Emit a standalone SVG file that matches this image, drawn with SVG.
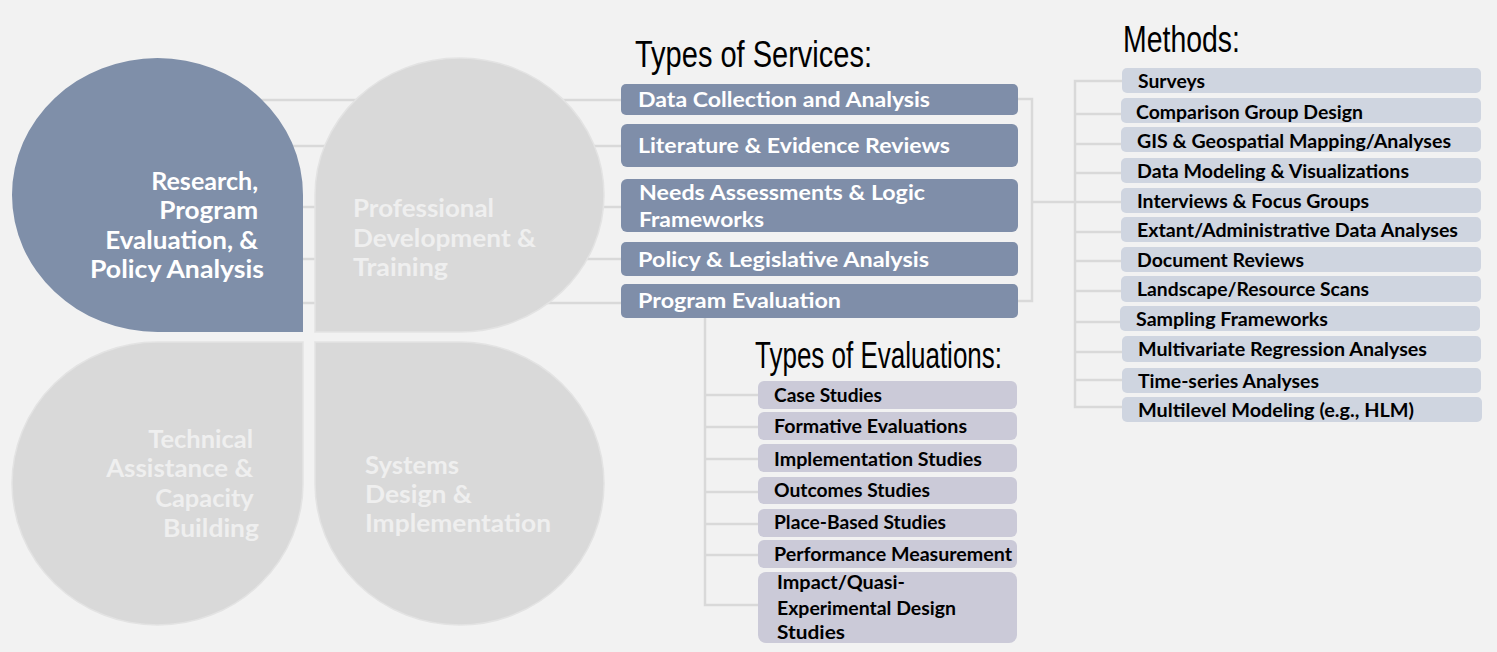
<svg xmlns="http://www.w3.org/2000/svg" width="1497" height="652" viewBox="0 0 1497 652">
<style>
.bg{fill:#f2f2f2}
.ln{stroke:#d9d9d9;stroke-width:2.5;fill:none}
.pb{fill:#7f8fa9}
.pg{fill:#d9d9d9;stroke:#e3e3e3;stroke-width:1.5}
.pt{font-family:Lato,"Open Sans",sans-serif;font-weight:700;font-size:24px}
.ptw{fill:#ffffff}
.ptg{fill:#efefef}
.ttl{font-family:"Liberation Sans",Arial,sans-serif;font-size:37px;fill:#000}
.sv{fill:#7f8ea9}
.svt{font-family:Lato,"Open Sans",sans-serif;font-weight:700;font-size:21px;fill:#fff}
.mb{fill:#cfd5e0}
.eb{fill:#cbcad8}
.bt{font-family:Lato,"Open Sans",sans-serif;font-weight:700;font-size:18px;fill:#000}
</style>
<rect class="bg" x="0" y="0" width="1497" height="652"/>

<g id="connectors">
  <path class="ln" d="M160,100 H621 M160,146 H621 M160,207 H621 M160,259 H621 M160,303 H621"/>
  <path class="ln" d="M1018,99 H1032 V301 H1018 M1032,202 H1075"/>
  <path class="ln" d="M1122,81 H1075 V407 H1122 M1075,114 H1122 M1075,144 H1122 M1075,173 H1122 M1075,202 H1122 M1075,232 H1122 M1075,261 H1122 M1075,291 H1122 M1075,322 H1122 M1075,352 H1122 M1075,380 H1122"/>
  <path class="ln" d="M705,318 V605 H758 M705,395 H758 M705,427 H758 M705,459 H758 M705,492 H758 M705,524 H758 M705,555 H758"/>
</g>

<g id="petal-research">
  <path class="pb" d="M303,332 H157.5 A145.5,137 0 0 1 12,195 A145.5,137 0 0 1 157.5,58 A145.5,137 0 0 1 303,195 Z"/>
  <text class="pt ptw" text-anchor="end">
    <tspan x="264" y="190" textLength="107" lengthAdjust="spacingAndGlyphs">Research,</tspan>
    <tspan x="264" y="219" textLength="99" lengthAdjust="spacingAndGlyphs">Program</tspan>
    <tspan x="264" y="249" textLength="153" lengthAdjust="spacingAndGlyphs">Evaluation, &amp;</tspan>
    <tspan x="264" y="278" textLength="174" lengthAdjust="spacingAndGlyphs">Policy Analysis</tspan>
  </text>
</g>
<g id="petal-professional">
  <path class="pg" d="M315,332 V195 A144.5,137 0 0 1 459.5,58 A144.5,137 0 0 1 604,195 A144.5,137 0 0 1 459.5,332 Z"/>
  <text class="pt ptg">
    <tspan x="353" y="217" textLength="141" lengthAdjust="spacingAndGlyphs">Professional</tspan>
    <tspan x="353" y="247" textLength="183" lengthAdjust="spacingAndGlyphs">Development &amp;</tspan>
    <tspan x="353" y="276" textLength="95" lengthAdjust="spacingAndGlyphs">Training</tspan>
  </text>
</g>
<g id="petal-technical">
  <path class="pg" d="M303,342 V483.5 A145.5,141.5 0 0 1 157.5,625 A145.5,141.5 0 0 1 12,483.5 A145.5,141.5 0 0 1 157.5,342 Z"/>
  <text class="pt ptg" text-anchor="end">
    <tspan x="259" y="448" textLength="105" lengthAdjust="spacingAndGlyphs">Technical</tspan>
    <tspan x="259" y="477" textLength="147" lengthAdjust="spacingAndGlyphs">Assistance &amp;</tspan>
    <tspan x="259" y="507" textLength="98" lengthAdjust="spacingAndGlyphs">Capacity</tspan>
    <tspan x="259" y="537" textLength="96" lengthAdjust="spacingAndGlyphs">Building</tspan>
  </text>
</g>
<g id="petal-systems">
  <path class="pg" d="M315,342 H459.5 A144.5,141.5 0 0 1 604,483.5 A144.5,141.5 0 0 1 459.5,625 A144.5,141.5 0 0 1 315,483.5 Z"/>
  <text class="pt ptg">
    <tspan x="365" y="474" textLength="94" lengthAdjust="spacingAndGlyphs">Systems</tspan>
    <tspan x="365" y="503" textLength="107" lengthAdjust="spacingAndGlyphs">Design &amp;</tspan>
    <tspan x="365" y="532" textLength="186" lengthAdjust="spacingAndGlyphs">Implementation</tspan>
  </text>
</g>

<g id="title-services"><text class="ttl" x="635" y="67" textLength="237" lengthAdjust="spacingAndGlyphs">Types of Services:</text></g>
<g id="title-methods"><text class="ttl" x="1123" y="52" textLength="117" lengthAdjust="spacingAndGlyphs">Methods:</text></g>
<g id="title-evaluations"><text class="ttl" x="755" y="368" textLength="247" lengthAdjust="spacingAndGlyphs">Types of Evaluations:</text></g>

<g id="svc-data"><rect class="sv" x="621" y="84" width="397" height="31" rx="5"/><text class="svt" x="638" y="107" textLength="292" lengthAdjust="spacingAndGlyphs">Data Collection and Analysis</text></g>
<g id="svc-literature"><rect class="sv" x="621" y="124" width="397" height="43" rx="6"/><text class="svt" x="638" y="153" textLength="312" lengthAdjust="spacingAndGlyphs">Literature &amp; Evidence Reviews</text></g>
<g id="svc-needs"><rect class="sv" x="621" y="179" width="397" height="53" rx="6"/><text class="svt"><tspan x="639" y="200" textLength="286" lengthAdjust="spacingAndGlyphs">Needs Assessments &amp; Logic</tspan><tspan x="639" y="227" textLength="125" lengthAdjust="spacingAndGlyphs">Frameworks</tspan></text></g>
<g id="svc-policy"><rect class="sv" x="621" y="242" width="397" height="34" rx="5"/><text class="svt" x="638" y="267" textLength="291" lengthAdjust="spacingAndGlyphs">Policy &amp; Legislative Analysis</text></g>
<g id="svc-program"><rect class="sv" x="621" y="284" width="397" height="34" rx="5"/><text class="svt" x="638" y="308" textLength="203" lengthAdjust="spacingAndGlyphs">Program Evaluation</text></g>

<g id="m-surveys"><rect class="mb" x="1122" y="68" width="359" height="25" rx="5"/><text class="bt" x="1138" y="88" textLength="67" lengthAdjust="spacingAndGlyphs">Surveys</text></g>
<g id="m-comparison"><rect class="mb" x="1121" y="98" width="360" height="25" rx="5"/><text class="bt" x="1136" y="119" textLength="227" lengthAdjust="spacingAndGlyphs">Comparison Group Design</text></g>
<g id="m-gis"><rect class="mb" x="1121" y="127" width="360" height="25" rx="5"/><text class="bt" x="1137" y="148" textLength="314" lengthAdjust="spacingAndGlyphs">GIS &amp; Geospatial Mapping/Analyses</text></g>
<g id="m-datamodel"><rect class="mb" x="1121" y="158" width="360" height="25" rx="5"/><text class="bt" x="1137" y="178" textLength="272" lengthAdjust="spacingAndGlyphs">Data Modeling &amp; Visualizations</text></g>
<g id="m-interviews"><rect class="mb" x="1121" y="188" width="360" height="25" rx="5"/><text class="bt" x="1137" y="208" textLength="232" lengthAdjust="spacingAndGlyphs">Interviews &amp; Focus Groups</text></g>
<g id="m-extant"><rect class="mb" x="1121" y="217" width="360" height="25" rx="5"/><text class="bt" x="1137" y="237" textLength="321" lengthAdjust="spacingAndGlyphs">Extant/Administrative Data Analyses</text></g>
<g id="m-document"><rect class="mb" x="1121" y="247" width="360" height="25" rx="5"/><text class="bt" x="1137" y="267" textLength="167" lengthAdjust="spacingAndGlyphs">Document Reviews</text></g>
<g id="m-landscape"><rect class="mb" x="1121" y="276" width="360" height="26" rx="5"/><text class="bt" x="1137" y="296" textLength="232" lengthAdjust="spacingAndGlyphs">Landscape/Resource Scans</text></g>
<g id="m-sampling"><rect class="mb" x="1120" y="306" width="360" height="25" rx="5"/><text class="bt" x="1136" y="326" textLength="192" lengthAdjust="spacingAndGlyphs">Sampling Frameworks</text></g>
<g id="m-multivariate"><rect class="mb" x="1122" y="336" width="359" height="26" rx="5"/><text class="bt" x="1138" y="356" textLength="289" lengthAdjust="spacingAndGlyphs">Multivariate Regression Analyses</text></g>
<g id="m-timeseries"><rect class="mb" x="1122" y="368" width="359" height="25" rx="5"/><text class="bt" x="1138" y="388" textLength="181" lengthAdjust="spacingAndGlyphs">Time-series Analyses</text></g>
<g id="m-multilevel"><rect class="mb" x="1122" y="397" width="360" height="25" rx="5"/><text class="bt" x="1138" y="417" textLength="276" lengthAdjust="spacingAndGlyphs">Multilevel Modeling (e.g., HLM)</text></g>

<g id="e-case"><rect class="eb" x="758" y="381" width="259" height="28" rx="6"/><text class="bt" x="774" y="402" textLength="108" lengthAdjust="spacingAndGlyphs">Case Studies</text></g>
<g id="e-formative"><rect class="eb" x="758" y="412" width="259" height="28" rx="6"/><text class="bt" x="774" y="433" textLength="193" lengthAdjust="spacingAndGlyphs">Formative Evaluations</text></g>
<g id="e-implementation"><rect class="eb" x="758" y="444" width="259" height="28" rx="6"/><text class="bt" x="774" y="466" textLength="208" lengthAdjust="spacingAndGlyphs">Implementation Studies</text></g>
<g id="e-outcomes"><rect class="eb" x="758" y="477" width="259" height="27" rx="6"/><text class="bt" x="774" y="497" textLength="156" lengthAdjust="spacingAndGlyphs">Outcomes Studies</text></g>
<g id="e-place"><rect class="eb" x="758" y="509" width="259" height="28" rx="6"/><text class="bt" x="774" y="529" textLength="172" lengthAdjust="spacingAndGlyphs">Place-Based Studies</text></g>
<g id="e-performance"><rect class="eb" x="758" y="540" width="259" height="28" rx="6"/><text class="bt" x="774" y="561" textLength="238" lengthAdjust="spacingAndGlyphs">Performance Measurement</text></g>
<g id="e-impact"><rect class="eb" x="758" y="572" width="259" height="71" rx="8"/><text class="bt"><tspan x="777" y="589" textLength="128" lengthAdjust="spacingAndGlyphs">Impact/Quasi-</tspan><tspan x="777" y="615" textLength="179" lengthAdjust="spacingAndGlyphs">Experimental Design</tspan><tspan x="777" y="639" textLength="68" lengthAdjust="spacingAndGlyphs">Studies</tspan></text></g>
</svg>
